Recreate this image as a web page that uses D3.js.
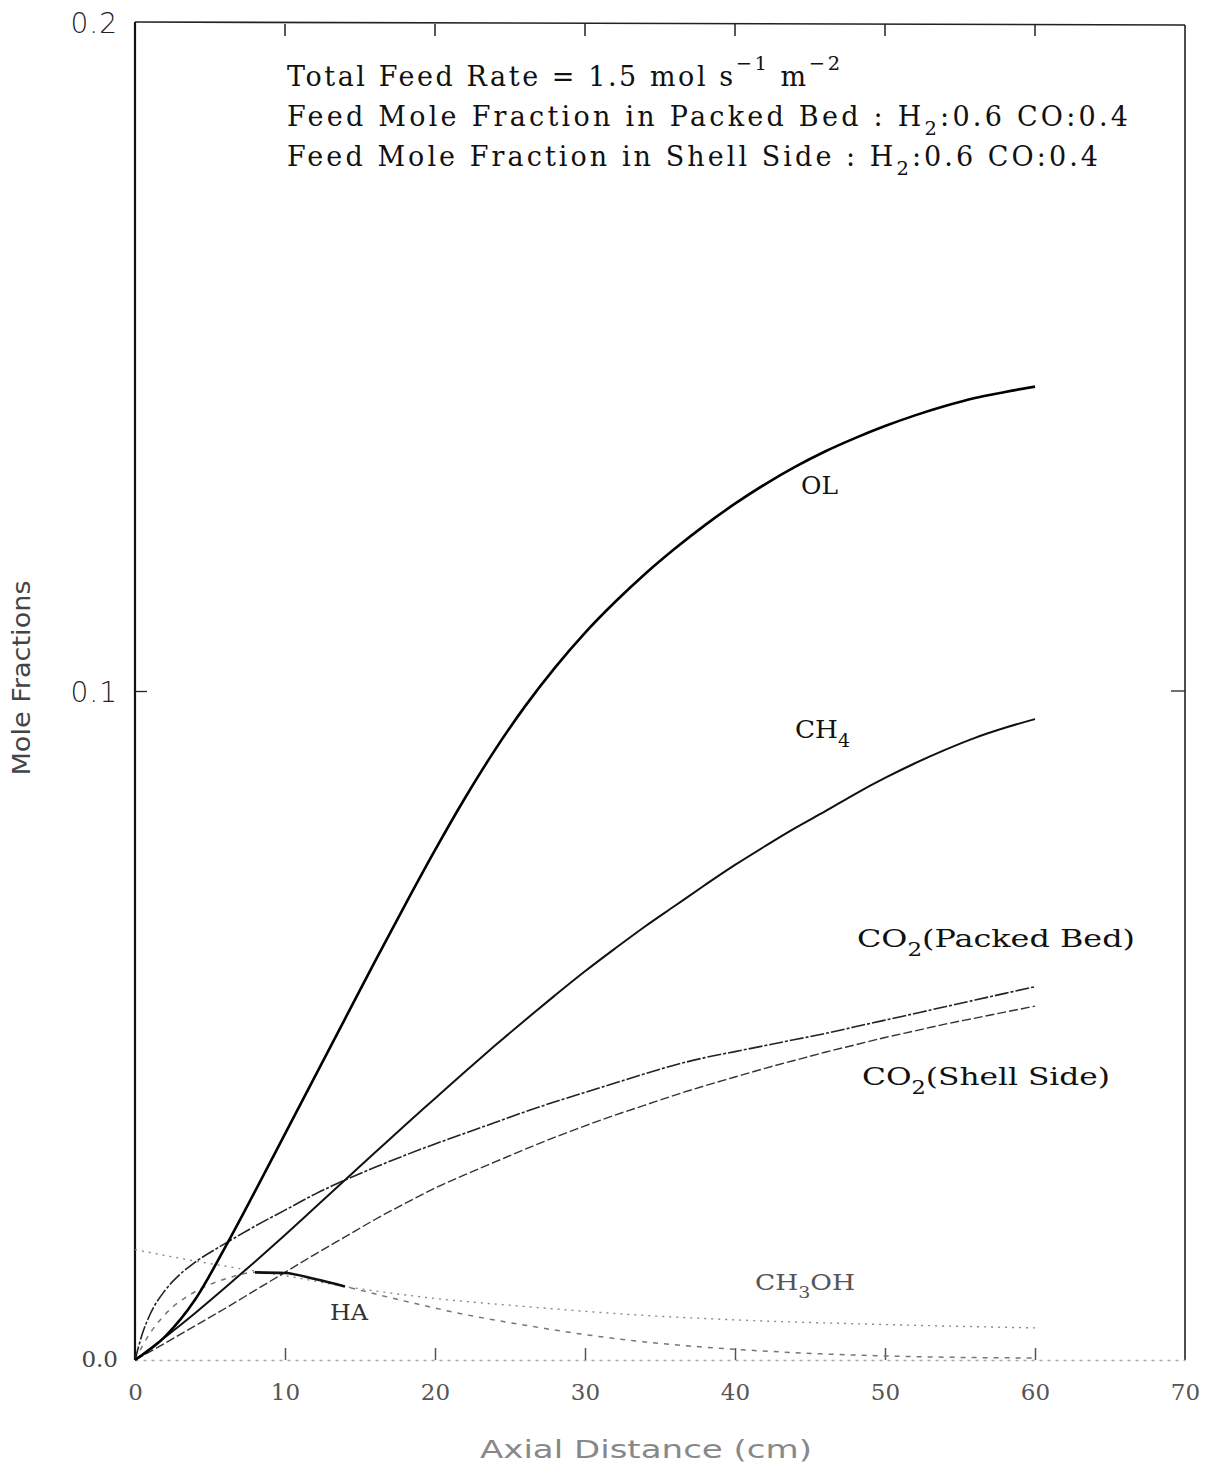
<!DOCTYPE html>
<html>
<head>
<meta charset="utf-8">
<script src="https://cdn.jsdelivr.net/npm/d3@7"></script>
<style>
  body { margin: 0; background: #fff; }
  .serif { font-family: "DejaVu Serif", serif; }
  .sans { font-family: "DejaVu Sans", sans-serif; }
</style>
</head>
<body>
<div id="chart"></div>
<script>
/* CONSTANTS AND GLOBALS */
const width = 1209,
  height = 1473,
  margin = { top: 22, bottom: 113, left: 135, right: 24 };

// distance along the reactor (cm), read every 2 cm off the figure
const dist = [0, 2, 4, 6, 8, 10, 12, 14, 16, 18, 20, 22, 24, 26, 28, 30, 32, 34, 36, 38, 40, 42, 44, 46, 48, 50, 52, 54, 56, 58, 60];

// mole fractions at those distances
const olY = [0, 0.0035, 0.009, 0.0168, 0.0252, 0.0338, 0.0424, 0.051, 0.0596, 0.068, 0.0762, 0.084, 0.0912, 0.0977, 0.1035, 0.1087, 0.1133, 0.1175, 0.1213, 0.1248, 0.128, 0.1309, 0.1335, 0.1358, 0.1378, 0.1396, 0.1412, 0.1426, 0.1438, 0.1447, 0.1455];
const ch4Y = [0, 0.0034, 0.007, 0.0108, 0.0147, 0.0187, 0.0228, 0.0269, 0.031, 0.0351, 0.0391, 0.0431, 0.047, 0.0508, 0.0545, 0.0581, 0.0615, 0.0648, 0.0679, 0.071, 0.074, 0.0768, 0.0795, 0.082, 0.0846, 0.087, 0.0892, 0.0912, 0.093, 0.0945, 0.0958];
const co2ssY = [0, 0.0025, 0.0051, 0.0077, 0.0104, 0.0131, 0.0158, 0.0184, 0.021, 0.0234, 0.0257, 0.0277, 0.0296, 0.0315, 0.0333, 0.035, 0.0366, 0.0381, 0.0396, 0.041, 0.0423, 0.0436, 0.0448, 0.046, 0.0471, 0.0482, 0.0492, 0.0502, 0.0511, 0.052, 0.0529];

// CO2 in the packed bed climbs fast right at the inlet, so it gets a few extra points there
const co2pbX = [0, 0.5, 1, 2, 3, 4, 6, 8, 10, 12, 14, 16, 18, 20, 22, 24, 26, 28, 30, 32, 34, 36, 38, 40, 42, 44, 46, 48, 50, 52, 54, 56, 58, 60];
const co2pbY = [0, 0.004, 0.0068, 0.0104, 0.0128, 0.0146, 0.0174, 0.02, 0.0224, 0.0248, 0.0269, 0.0288, 0.0306, 0.0323, 0.0339, 0.0355, 0.0371, 0.0386, 0.04, 0.0414, 0.0428, 0.0441, 0.0452, 0.0461, 0.047, 0.0479, 0.0488, 0.0498, 0.0508, 0.0518, 0.0528, 0.0538, 0.0548, 0.0558];

const meohX = [0, 4, 8, 10, 14, 20, 26, 33, 40, 50, 60];
const meohY = [0.0165, 0.0148, 0.0133, 0.0126, 0.011, 0.0092, 0.008, 0.0068, 0.006, 0.0053, 0.0048];

const haX = [0, 1, 2, 4, 6, 8, 10, 12, 14, 18, 22, 26, 30, 34, 40, 46, 52, 60];
const haY = [0, 0.004, 0.0068, 0.0102, 0.0121, 0.0131, 0.013, 0.0121, 0.011, 0.0088, 0.0068, 0.0052, 0.0038, 0.0027, 0.0016, 0.0009, 0.0005, 0.0003];

const xTicks = [0, 10, 20, 30, 40, 50, 60, 70];
const yTicks = [0, 0.1, 0.2];
const yTickLabels = ["0.0", "0.1", "0.2"];

let svg, xScale, yScale;

init();

function init() {
  xScale = d3.scaleLinear().domain([0, 70]).range([margin.left, width - margin.right]);
  yScale = d3.scaleLinear().domain([0, 0.2]).range([height - margin.bottom, margin.top]);

  svg = d3.select("#chart").append("svg")
    .attr("width", width)
    .attr("height", height)
    .style("background", "#fff");

  drawAxes();
  drawLines();
  drawText();
}

function drawAxes() {
  const x0 = xScale(0), x1 = xScale(70), y0 = yScale(0), y1 = yScale(0.2);

  // frame: left, top and right are solid, bottom is faded in the scan
  svg.append("line").attr("x1", x0).attr("x2", x0).attr("y1", y1).attr("y2", y0)
    .attr("stroke", "#111").attr("stroke-width", 2.2);
  svg.append("line").attr("x1", x0).attr("x2", x1).attr("y1", y1).attr("y2", y1 + 3)
    .attr("stroke", "#222").attr("stroke-width", 1.6);
  svg.append("line").attr("x1", x1).attr("x2", x1).attr("y1", y1 + 3).attr("y2", y0)
    .attr("stroke", "#222").attr("stroke-width", 1.6);

  const xAxis = d3.axisBottom(xScale)
    .tickValues(xTicks)
    .tickSizeInner(-12)
    .tickSizeOuter(0)
    .tickPadding(24)
    .tickFormat(d => d);

  const gx = svg.append("g")
    .attr("class", "axis x-axis")
    .attr("transform", `translate(0,${y0})`)
    .call(xAxis);
  gx.select(".domain").attr("stroke", "#aaa").attr("stroke-width", 1.5).attr("stroke-dasharray", "3,5");
  gx.selectAll(".tick line").attr("stroke", "#555").attr("stroke-width", 1.5)
    .filter(d => d === 0 || d === 70).remove();
  gx.selectAll(".tick text")
    .attr("class", "serif")
    .attr("font-size", 23)
    .attr("fill", "#555");

  // top ticks pointing down
  svg.append("g")
    .selectAll("line")
    .data(xTicks.filter(d => d > 0 && d < 70))
    .join("line")
    .attr("x1", d => xScale(d)).attr("x2", d => xScale(d))
    .attr("y1", y1 + 2).attr("y2", y1 + 14)
    .attr("stroke", "#222").attr("stroke-width", 1.5);

  const yAxis = d3.axisLeft(yScale)
    .tickValues(yTicks)
    .tickSizeInner(-12)
    .tickSizeOuter(0)
    .tickPadding(17)
    .tickFormat((d, i) => yTickLabels[i]);

  const gy = svg.append("g")
    .attr("class", "axis y-axis")
    .attr("transform", `translate(${x0},0)`)
    .call(yAxis);
  gy.select(".domain").remove();
  gy.selectAll(".tick line").attr("stroke", "#222").attr("stroke-width", 1.3)
    .filter(d => d !== 0.1).remove();
  gy.selectAll(".tick text")
    .attr("font-family", "'DejaVu Sans', sans-serif")
    .attr("font-size", 28)
    .attr("font-weight", 300)
    .attr("letter-spacing", 1)
    .attr("fill", "#222")
    .attr("dy", "0.36em");
  gy.selectAll(".tick text").filter(d => d === 0)
    .attr("font-family", "'DejaVu Serif', serif")
    .attr("font-size", 23)
    .attr("letter-spacing", 0)
    .attr("fill", "#444")
    .attr("dy", "0.3em");

  // right tick at 0.1
  svg.append("line")
    .attr("x1", x1 - 14).attr("x2", x1)
    .attr("y1", yScale(0.1)).attr("y2", yScale(0.1))
    .attr("stroke", "#222").attr("stroke-width", 1.3);

  // axis titles
  svg.append("text")
    .attr("class", "sans")
    .attr("transform", `translate(30,${yScale(0.1) - 13}) rotate(-90)`)
    .attr("text-anchor", "middle")
    .attr("font-size", 24)
    .attr("fill", "#444")
    .attr("textLength", 195)
    .attr("lengthAdjust", "spacingAndGlyphs")
    .text("Mole Fractions");

  svg.append("text")
    .attr("class", "sans")
    .attr("x", 480)
    .attr("y", 1458)
    .attr("font-size", 24)
    .attr("fill", "#888")
    .attr("textLength", 332)
    .attr("lengthAdjust", "spacingAndGlyphs")
    .text("Axial Distance (cm)");
}

function series(xs, ys) {
  return xs.map((x, i) => ({ x: x, y: ys[i] }));
}

function drawLines() {
  const line = d3.line()
    .x(d => xScale(d.x))
    .y(d => yScale(d.y))
    .curve(d3.curveMonotoneX);

  const specs = [
    { data: series(meohX, meohY), stroke: "#888", width: 1.4, dash: "2,5" },
    { data: series(haX, haY), stroke: "#777", width: 1.5, dash: "5,6" },
    { data: series(dist, co2ssY), stroke: "#333", width: 1.4, dash: "9,3" },
    { data: series(co2pbX, co2pbY), stroke: "#222", width: 1.6, dash: "14,2,3,2" },
    { data: series(dist, ch4Y), stroke: "#111", width: 2, dash: null },
    { data: series(dist, olY), stroke: "#000", width: 2.6, dash: null }
  ];

  svg.append("g")
    .selectAll("path")
    .data(specs)
    .join("path")
    .attr("d", d => line(d.data))
    .attr("fill", "none")
    .attr("stroke", d => d.stroke)
    .attr("stroke-width", d => d.width)
    .attr("stroke-dasharray", d => d.dash);

  // the darker piece of HA where it meets CH3OH
  const haBold = series(haX, haY).filter(d => d.x >= 8 && d.x <= 14);
  svg.append("path")
    .attr("d", line(haBold))
    .attr("fill", "none")
    .attr("stroke", "#111")
    .attr("stroke-width", 2.6);
}

function label(x, y, parts, size, fill, len, adjust) {
  const t = svg.append("text")
    .attr("class", "serif")
    .attr("x", x)
    .attr("y", y)
    .attr("font-size", size)
    .attr("fill", fill || "#111");
  if (len) t.attr("textLength", len).attr("lengthAdjust", adjust || "spacingAndGlyphs");
  parts.forEach(p => {
    const s = t.append("tspan").text(p.t);
    if (p.sub) s.attr("font-size", size * 0.72).attr("dy", size * 0.35);
    if (p.sup) s.attr("font-size", size * 0.72).attr("dy", -size * 0.6);
    if (p.back) s.attr("dy", p.back);
  });
  return t;
}

function drawText() {
  const fs = 27;
  label(287, 86, [
    { t: "Total Feed Rate = 1.5 mol s" },
    { t: "−1", sup: true },
    { t: " m", back: fs * 0.6 },
    { t: "−2", sup: true }
  ], fs, "#111", 553, "spacing");

  label(287, 126, [
    { t: "Feed Mole Fraction in Packed Bed : H" },
    { t: "2", sub: true },
    { t: ":0.6 CO:0.4", back: -fs * 0.35 }
  ], fs, "#111", 841, "spacing");

  label(287, 166, [
    { t: "Feed Mole Fraction in Shell Side : H" },
    { t: "2", sub: true },
    { t: ":0.6 CO:0.4", back: -fs * 0.35 }
  ], fs, "#111", 811, "spacing");

  label(801, 494, [{ t: "OL" }], 25, "#111", 37);
  label(795, 738, [{ t: "CH" }, { t: "4", sub: true }], 25, "#111", 55);
  label(857, 947, [{ t: "CO" }, { t: "2", sub: true }, { t: "(Packed Bed)", back: -25 * 0.35 }], 25, "#111", 278);
  label(862, 1085, [{ t: "CO" }, { t: "2", sub: true }, { t: "(Shell Side)", back: -25 * 0.35 }], 25, "#111", 248);
  label(755, 1290, [{ t: "CH" }, { t: "3", sub: true }, { t: "OH", back: -23 * 0.35 }], 23, "#555", 100);
  label(330, 1320, [{ t: "HA" }], 23, "#333", 38);
}
</script>
</body>
</html>
